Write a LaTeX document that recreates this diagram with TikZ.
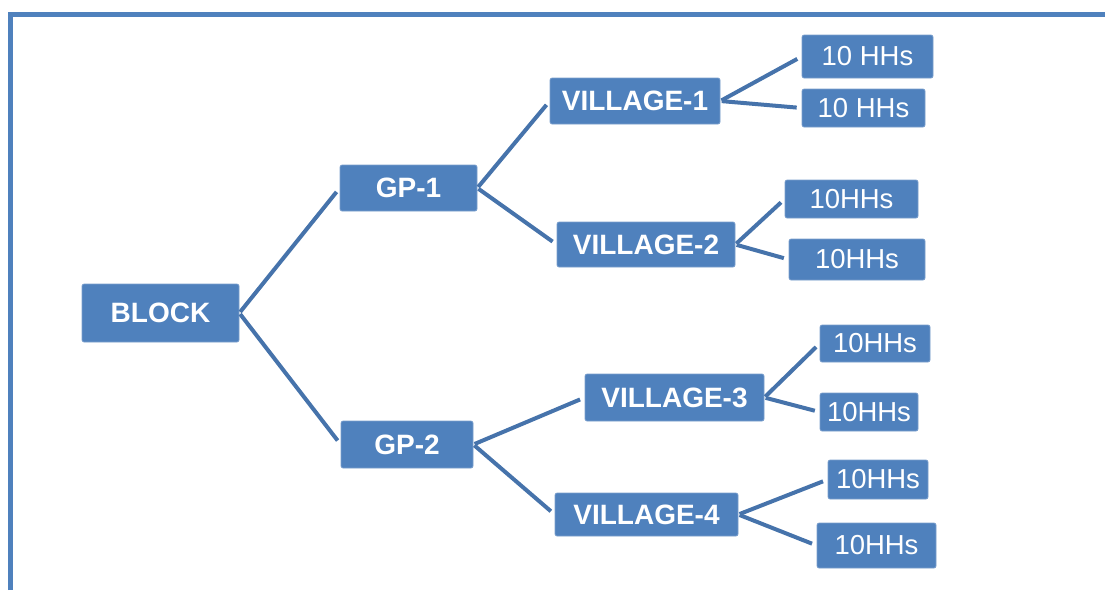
\documentclass[tikz,border=0pt]{standalone}
\usepackage{fontspec}
\setmainfont{Liberation Sans}
\usepackage{tikz}
\usetikzlibrary{positioning}
\definecolor{treeblue}{HTML}{4F81BD}
\definecolor{branchblue}{HTML}{4673AB}
\tikzset{
  treebox/.style={
    rectangle,
    rounded corners=1.5pt,
    fill=treeblue,
    draw=treeblue!75!white,
    line width=0.5pt,
    text=white,
    inner sep=0pt,
    align=center,
    font=\fontsize{21}{24}\selectfont\bfseries
  },
  hhbox/.style={treebox, font=\fontsize{20.6}{24}\selectfont},
  branch/.style={draw=branchblue, line width=3pt, shorten >=3.75pt, shorten <=1pt},
  framerule/.style={draw=treeblue, line width=3.75pt, line join=miter}
}

\begin{document}
\begin{tikzpicture}[x=0.75pt, y=-0.75pt]
\useasboundingbox (0,0) rectangle (1105,590);
\draw[framerule] (10.5,590) -- (10.5,14.5) -- (1105,14.5);
% block and gram panchayats
\node[treebox, minimum width=117.75pt, minimum height=43.5pt] (block) at (160.5,313) {BLOCK};
\node[treebox, minimum width=102.75pt, minimum height=34.5pt] (gp1) at (408.5,188) {GP-1};
\node[treebox, minimum width=99pt, minimum height=35.25pt] (gp2) at (407,444.5) {GP-2};
% villages
\node[treebox, minimum width=127.5pt, minimum height=34.5pt] (v1) at (635,101) {VILLAGE-1};
\node[treebox, minimum width=133.5pt, minimum height=33.75pt] (v2) at (646,244.5) {VILLAGE-2};
\node[treebox, minimum width=134.25pt, minimum height=35.25pt] (v3) at (674.5,397.5) {VILLAGE-3};
\node[treebox, minimum width=137.25pt, minimum height=32.25pt] (v4) at (646.5,514.5) {VILLAGE-4};
% households
\node[hhbox, minimum width=98.25pt, minimum height=32.25pt] (hh1a) at (867.5,56.5) {10 HHs};
\node[hhbox, minimum width=92.25pt, minimum height=28.5pt] (hh1b) at (863.5,108) {10 HHs};
\node[hhbox, minimum width=99.75pt, minimum height=28.5pt] (hh2a) at (851.5,199) {10HHs};
\node[hhbox, minimum width=102pt, minimum height=30.75pt] (hh2b) at (857,259.5) {10HHs};
\node[hhbox, minimum width=82.5pt, minimum height=27.75pt] (hh3a) at (875,343.5) {10HHs};
\node[hhbox, minimum width=73.5pt, minimum height=28.5pt] (hh3b) at (869,412) {10HHs};
\node[hhbox, minimum width=75pt, minimum height=29.25pt] (hh4a) at (878,479.5) {10HHs};
\node[hhbox, minimum width=89.25pt, minimum height=33.75pt] (hh4b) at (876.5,545.5) {10HHs};
\draw[branch] (block.east) -- (gp1.west);
\draw[branch] (block.east) -- (gp2.west);
\draw[branch] (gp1.east) -- (v1.west);
\draw[branch] (gp1.east) -- (v2.west);
\draw[branch] (gp2.east) -- (v3.west);
\draw[branch] (gp2.east) -- (v4.west);
\draw[branch] (v1.east) -- (hh1a.west);
\draw[branch] (v1.east) -- (hh1b.west);
\draw[branch] (v2.east) -- (hh2a.west);
\draw[branch] (v2.east) -- (hh2b.west);
\draw[branch] (v3.east) -- (hh3a.west);
\draw[branch] (v3.east) -- (hh3b.west);
\draw[branch] (v4.east) -- (hh4a.west);
\draw[branch] (v4.east) -- (hh4b.west);
\end{tikzpicture}
\end{document}
